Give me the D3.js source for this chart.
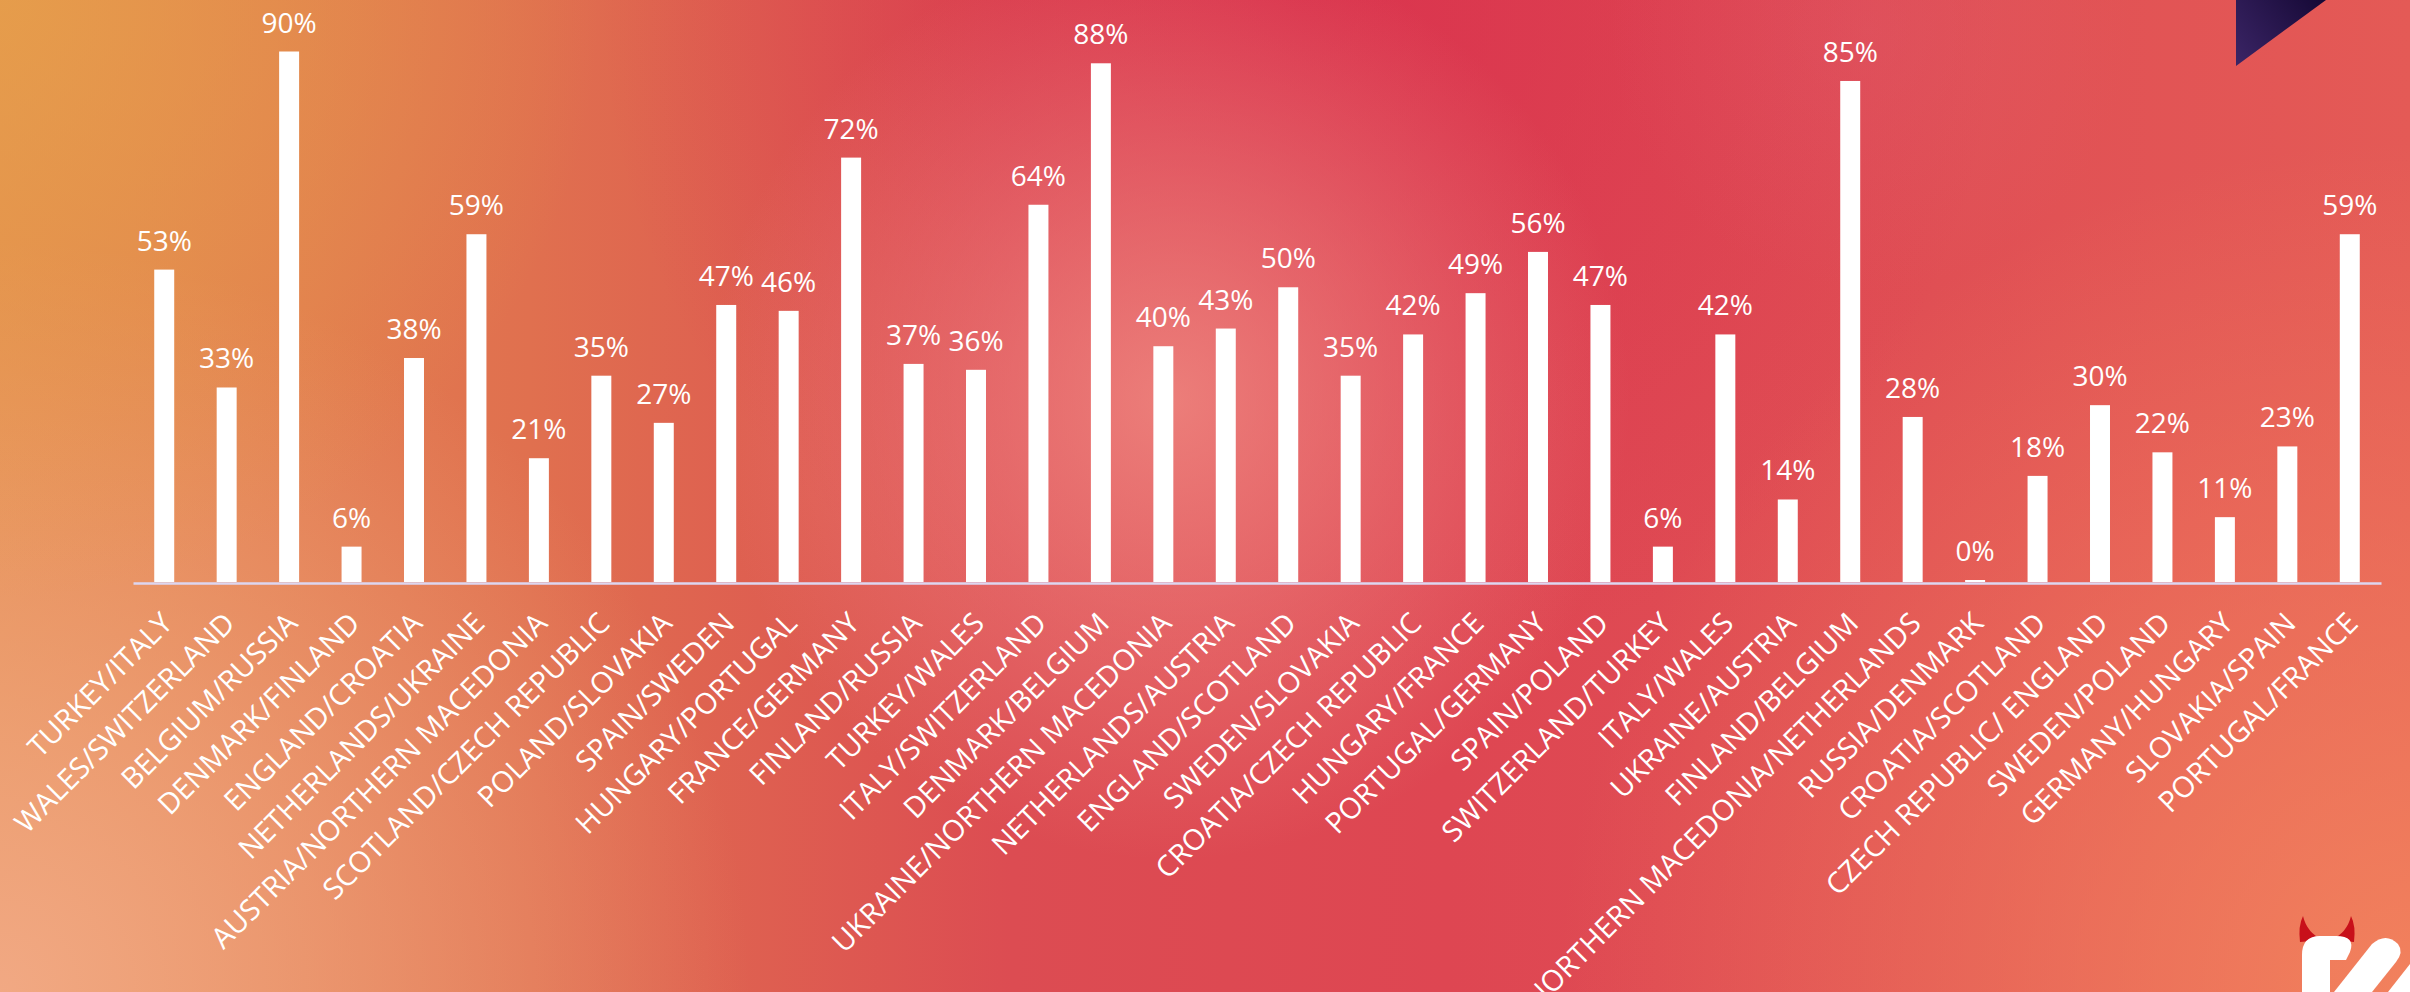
<!DOCTYPE html>
<html><head><meta charset="utf-8">
<script src="https://cdn.jsdelivr.net/npm/d3@7"></script>
<style>html,body{margin:0;padding:0;overflow:hidden;background:#e05050}svg{display:block}</style>
</head><body>
<script>
const categories = ["TURKEY/ITALY","WALES/SWITZERLAND","BELGIUM/RUSSIA","DENMARK/FINLAND","ENGLAND/CROATIA","NETHERLANDS/UKRAINE","AUSTRIA/NORTHERN MACEDONIA","SCOTLAND/CZECH REPUBLIC","POLAND/SLOVAKIA","SPAIN/SWEDEN","HUNGARY/PORTUGAL","FRANCE/GERMANY","FINLAND/RUSSIA","TURKEY/WALES","ITALY/SWITZERLAND","DENMARK/BELGIUM","UKRAINE/NORTHERN MACEDONIA","NETHERLANDS/AUSTRIA","ENGLAND/SCOTLAND","SWEDEN/SLOVAKIA","CROATIA/CZECH REPUBLIC","HUNGARY/FRANCE","PORTUGAL/GERMANY","SPAIN/POLAND","SWITZERLAND/TURKEY","ITALY/WALES","UKRAINE/AUSTRIA","FINLAND/BELGIUM","NORTHERN MACEDONIA/NETHERLANDS","RUSSIA/DENMARK","CROATIA/SCOTLAND","CZECH REPUBLIC/ ENGLAND","SWEDEN/POLAND","GERMANY/HUNGARY","SLOVAKIA/SPAIN","PORTUGAL/FRANCE"];
const values = [53,33,90,6,38,59,21,35,27,47,46,72,37,36,64,88,40,43,50,35,42,49,56,47,6,42,14,85,28,0,18,30,22,11,23,59];
const valueLabels = values.map(v => v + "%");

const W = 2410, H = 992;
const svg = d3.select("body").append("svg").attr("width", W).attr("height", H);
const defs = svg.append("defs");

function lin(id, attrs, stops){
  const g = defs.append("linearGradient").attr("id", id).attr("gradientUnits","userSpaceOnUse");
  Object.entries(attrs).forEach(([k,v])=>g.attr(k,v));
  stops.forEach(s=>g.append("stop").attr("offset",s[0]).attr("stop-color",s[1]).attr("stop-opacity",s[2]==null?1:s[2]));
}
function rad(id, cx, cy, r, color, op){
  const g = defs.append("radialGradient").attr("id", id).attr("gradientUnits","userSpaceOnUse")
    .attr("cx",cx).attr("cy",cy).attr("r",r);
  g.append("stop").attr("offset",0).attr("stop-color",color).attr("stop-opacity",op);
  g.append("stop").attr("offset",1).attr("stop-color",color).attr("stop-opacity",0);
}
lin("bgH",{x1:0,y1:0,x2:W,y2:0},[[0,"#e48c4f"],[0.22,"#e0704f"],[0.42,"#dc4c52"],[0.6,"#de4652"],[0.8,"#e04f54"],[1,"#e45a56"]]);
rad("gBR", W, H, 850, "#f4885e", 0.85);
rad("gBL", 0, H, 750, "#f2aa86", 0.95);
rad("gTL", 0, 0, 600, "#e6a24a", 0.75);
rad("gTC", 1300, 0, 700, "#d82c4c", 0.7);
rad("gGlow", 1170, 400, 460, "#f08d84", 0.8);
rad("gTR", 1870, 30, 260, "#e06070", 0.3);
lin("tri",{x1:2236,y1:66,x2:2326,y2:0},[[0,"#3b2566"],[1,"#150835"]]);

svg.append("rect").attr("width",W).attr("height",H).attr("fill","url(#bgH)");
["gBR","gBL","gTL","gTC","gGlow","gTR"].forEach(id=>svg.append("rect").attr("width",W).attr("height",H).attr("fill",`url(#${id})`));

// decorative triangle top-right
svg.append("path").attr("d","M2236,0 L2326,0 L2236,66 Z").attr("fill","url(#tri)");

// logo bottom-right
const logo = svg.append("g");
logo.append("path").attr("d","M2300,942 Q2298,926 2303,916 Q2307,933 2323,940 Z").attr("fill","#c8101a");
logo.append("path").attr("d","M2354,942 Q2356,926 2351,916 Q2347,933 2331,940 Z").attr("fill","#c8101a");
logo.append("path").attr("d","M2302,955 Q2302,936 2320,936 L2336,936 Q2356,936 2350,952 L2346,960 L2330,960 L2330,992 L2302,992 Z").attr("fill","#ffffff");
logo.append("path").attr("d","M2334,992 L2372,944 Q2386,932 2398,944 Q2404,952 2396,962 L2372,992 Z").attr("fill","#ffffff");
logo.append("path").attr("d","M2388,992 L2410,964 L2410,992 Z").attr("fill","#ffffff");

const x = d3.scaleBand().domain(categories).range([133, 2381]).paddingInner(0.68).paddingOuter(0.34);
const y = d3.scaleLinear().domain([0, 90]).range([582, 51.5]);

const g = svg.append("g");
g.selectAll("rect.bar").data(values).join("rect").attr("class","bar")
  .attr("x",(d,i)=>x(categories[i]))
  .attr("width",x.bandwidth())
  .attr("y",d=>Math.min(y(d), y(0)-2))
  .attr("height",d=>Math.max(y(0)-y(d),2))
  .attr("fill","#ffffff");

g.selectAll("text.val").data(values).join("text").attr("class","val")
  .attr("x",(d,i)=>x(categories[i])+x.bandwidth()/2)
  .attr("y",d=>Math.min(y(d), y(0)-2)-19)
  .attr("text-anchor","middle")
  .attr("font-family","'Open Sans', sans-serif")
  .attr("font-size",28)
  .attr("fill","#ffffff")
  .text((d,i)=>valueLabels[i]);

// axis
const axis = d3.axisBottom(x).tickSize(0).tickPadding(0);
const ax = svg.append("g").attr("transform","translate(0,583)").call(axis);
ax.select(".domain").attr("stroke","#ddd6f0").attr("stroke-width",2.5);
ax.selectAll(".tick text")
  .attr("font-family","'Open Sans', sans-serif")
  .attr("font-size",29)
  .attr("fill","#ffffff")
  .attr("text-anchor","end")
  .attr("dy",0)
  .attr("y",0)
  .attr("transform","translate(10,42) rotate(-45)");
</script>
</body></html>
